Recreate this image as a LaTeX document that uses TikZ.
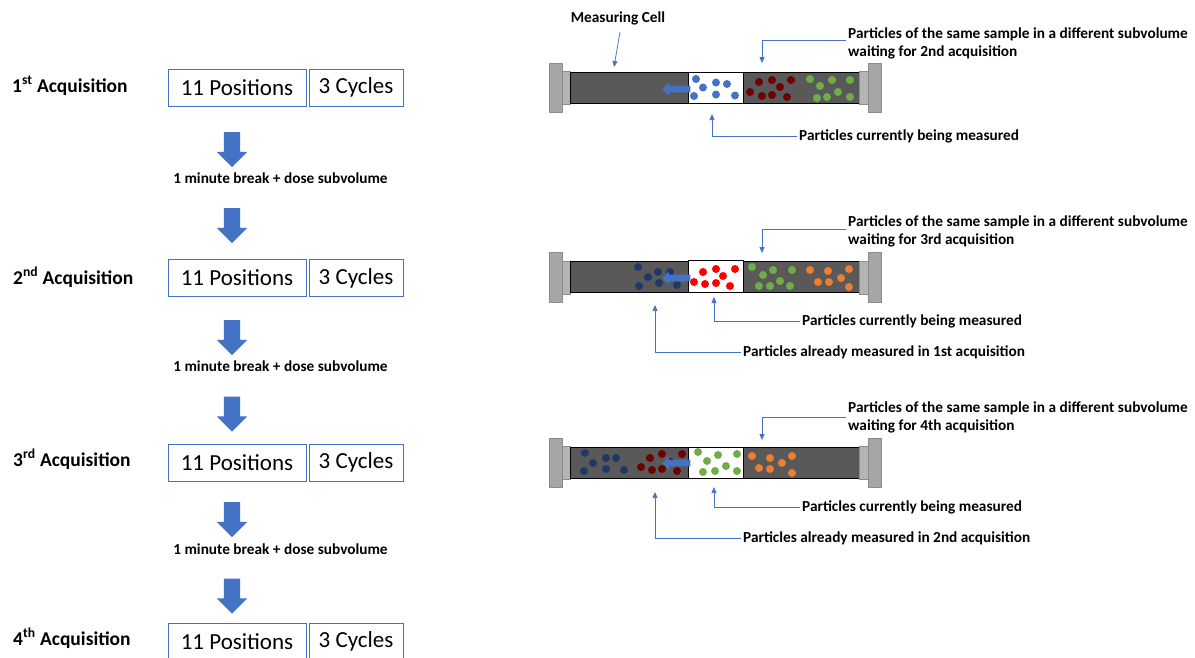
\documentclass[tikz,border=0pt]{standalone}
\usepackage{fontspec}
\setmainfont{Carlito}
\usetikzlibrary{shapes.arrows,arrows.meta}

\definecolor{flowblue}{HTML}{4472C4}
\definecolor{tubegray}{HTML}{595959}
\definecolor{capgray}{HTML}{A6A6A6}
\definecolor{capedge}{HTML}{8C8C8C}
\definecolor{capinner}{HTML}{B4B4B4}
\definecolor{navydot}{HTML}{1F3864}
\definecolor{maroondot}{HTML}{700000}
\definecolor{greendot}{HTML}{70AD47}
\definecolor{orangedot}{HTML}{ED7D31}
\definecolor{reddot}{HTML}{FF0000}

\tikzset{
  stepbox/.style={draw=flowblue, line width=0.8pt, fill=white, minimum height=37pt,
    inner sep=0pt, font=\fontsize{23}{27}\selectfont},
  acqlabel/.style={anchor=base west, inner sep=0pt, font=\bfseries\fontsize{19.5}{23}\selectfont},
  breaklabel/.style={anchor=base, inner sep=0pt, font=\bfseries\fontsize{15.3}{18.5}\selectfont},
  downarrow/.style={single arrow, shape border rotate=270, fill=flowblue, inner sep=8pt,
    minimum height=35pt, single arrow head extend=7pt},
  cellarrow/.style={single arrow, shape border rotate=180, fill=flowblue, inner sep=3.25pt,
    minimum height=28pt, single arrow head extend=3.25pt},
  notelabel/.style={anchor=west, inner sep=2pt, align=left, font=\bfseries\fontsize{15.3}{18.8}\selectfont},
  lead/.style={draw=flowblue, line width=0.75pt, -{Triangle[width=5pt,length=6pt]}},
  capout/.style={fill=capgray, draw=capedge, line width=0.8pt},
  capin/.style={fill=capinner, draw=capedge, line width=0.5pt},
  tube/.style={fill=tubegray, draw=black, line width=1pt},
  window/.style={fill=white, draw=black, line width=1pt},
}

\begin{document}
\begin{tikzpicture}[x=1pt, y=-1pt]
    \path[use as bounding box, fill=white] (0,0) rectangle (1195,657);

    % acquisition sequence
    \node[acqlabel] (acq1) at (12,92.3) {1\textsuperscript{st} Acquisition};
    \node[stepbox, minimum width=138pt] (pos1) at (237,87.5) {11 Positions};
    \node[stepbox, minimum width=94pt] (cyc1) at (356,87.5) {3 Cycles};
    \node[downarrow] (gap1) at (232,145.5) {};
    \node[breaklabel] (brk1) at (280.5,183) {1 minute break + dose subvolume};
    \node[downarrow] (gap2) at (232,221.5) {};

    \node[acqlabel] (acq2) at (13,284.3) {2\textsuperscript{nd} Acquisition};
    \node[stepbox, minimum width=138pt] (pos2) at (237,278) {11 Positions};
    \node[stepbox, minimum width=94pt] (cyc2) at (356,278) {3 Cycles};
    \node[downarrow] (gap3) at (232,333.5) {};
    \node[breaklabel] (brk2) at (280.5,371.5) {1 minute break + dose subvolume};
    \node[downarrow] (gap4) at (232,410) {};

    \node[acqlabel] (acq3) at (13,466) {3\textsuperscript{rd} Acquisition};
    \node[stepbox, minimum width=138pt] (pos3) at (237,462.5) {11 Positions};
    \node[stepbox, minimum width=94pt] (cyc3) at (356,462.5) {3 Cycles};
    \node[downarrow] (gap5) at (232,515.5) {};
    \node[breaklabel] (brk3) at (280.5,554) {1 minute break + dose subvolume};
    \node[downarrow] (gap6) at (232,592) {};

    \node[acqlabel] (acq4) at (13,645) {4\textsuperscript{th} Acquisition};
    \node[stepbox, minimum width=138pt] (pos4) at (237,641.5) {11 Positions};
    \node[stepbox, minimum width=94pt] (cyc4) at (356,641.5) {3 Cycles};

    % cell during 1st acquisition
    \begin{scope}[shift={(0,87.5)}]
        \draw[capout] (549,-24.5) rectangle (562,25);
        \draw[capin] (562,-16) rectangle (570,17);
        \draw[tube] (570,-15.5) rectangle (859,15.5);
        \draw[capin] (859,-16) rectangle (868,17);
        \draw[capout] (868,-24.5) rectangle (881,25);
        \draw[window] (688,-15.5) rectangle (743,15.5);
        \fill[flowblue] (696,-8.5) circle (4pt) (703,0) circle (4pt) (716,-5) circle (4pt) (727,-3.5) circle (4pt)
            (694,8.5) circle (4pt) (716,7) circle (4pt) (735,8) circle (4pt);
        \fill[maroondot] (759,-5.5) circle (4pt) (772,-7.5) circle (4pt) (791,-7.5) circle (4pt) (780,-0.5) circle (4pt)
            (750,4.5) circle (4pt) (762,8.5) circle (4pt) (772,7.5) circle (4pt) (787,9.5) circle (4pt);
        \fill[greendot] (810,-8.5) circle (4pt) (820,-1.5) circle (4pt) (832,-7.5) circle (4pt) (850,-7.5) circle (4pt)
            (838,4.5) circle (4pt) (817,10.5) circle (4pt) (827,9.5) circle (4pt) (850,9.5) circle (4pt);
        \node[cellarrow] (flow1) at (678,1.5) {};
    \end{scope}

    % cell during 2nd acquisition
    \begin{scope}[shift={(0,277)}]
        \draw[capout] (549,-24.5) rectangle (562,25);
        \draw[capin] (562,-16) rectangle (570,17);
        \draw[tube] (570,-15.5) rectangle (859,15.5);
        \draw[capin] (859,-16) rectangle (868,17);
        \draw[capout] (868,-24.5) rectangle (881,25);
        \draw[window] (688,-16.5) rectangle (743,15.5);
        \fill[navydot] (638,-10) circle (4pt) (648,0) circle (4pt) (658,-5) circle (4pt) (670,-5) circle (4pt)
            (639,9) circle (4pt) (659,6) circle (4pt) (677,8) circle (4pt);
        \fill[reddot] (703,-5) circle (4pt) (716,-8) circle (4pt) (735,-8) circle (4pt) (723,-1) circle (4pt)
            (694,5) circle (4pt) (705,7) circle (4pt) (716,6) circle (4pt) (730,9) circle (4pt);
        \fill[greendot] (752,-10) circle (4pt) (763,-2) circle (4pt) (773,-7) circle (4pt) (792,-7) circle (4pt)
            (780,4) circle (4pt) (759,9) circle (4pt) (770,9) circle (4pt) (790,9) circle (4pt);
        \fill[orangedot] (810,-7) circle (4pt) (828,-6) circle (4pt) (849,-8) circle (4pt) (818,5) circle (4pt)
            (829,5) circle (4pt) (841,1) circle (4pt) (849,10) circle (4pt);
        \node[cellarrow] (flow2) at (678,1) {};
    \end{scope}

    % cell during 3rd acquisition
    \begin{scope}[shift={(0,462.5)}]
        \draw[capout] (549,-24.5) rectangle (562,25);
        \draw[capin] (562,-16) rectangle (570,17);
        \draw[tube] (570,-15.5) rectangle (859,15.5);
        \draw[capin] (859,-16) rectangle (868,17);
        \draw[capout] (868,-24.5) rectangle (881,25);
        \draw[window] (688,-15.5) rectangle (743,15.5);
        \fill[navydot] (585,-9.5) circle (4pt) (593,0.5) circle (4pt) (606,-4.5) circle (4pt) (616,-4.5) circle (4pt)
            (584,8.5) circle (4pt) (606,6.5) circle (4pt) (624,7.5) circle (4pt);
        \fill[maroondot] (650,-4.5) circle (4pt) (662,-8.5) circle (4pt) (682,-8.5) circle (4pt) (670,-0.5) circle (4pt)
            (641,4.5) circle (4pt) (652,7.5) circle (4pt) (662,6.5) circle (4pt) (677,8.5) circle (4pt);
        \fill[greendot] (698,-10.5) circle (4pt) (707,-1.5) circle (4pt) (718,-7.5) circle (4pt) (737,-8.5) circle (4pt)
            (726,3.5) circle (4pt) (703,9.5) circle (4pt) (715,8.5) circle (4pt) (737,8.5) circle (4pt);
        \fill[orangedot] (752,-6.5) circle (4pt) (770,-4.5) circle (4pt) (792,-6.5) circle (4pt) (782,0.5) circle (4pt)
            (759,5.5) circle (4pt) (770,6.5) circle (4pt) (792,10.5) circle (4pt);
        \node[cellarrow] (flow3) at (678,0.5) {};
    \end{scope}

    % annotations
    \node[notelabel, anchor=center] (mcell) at (618,18) {Measuring Cell};
    \coordinate (mcelltip) at (614,67);
    \draw[lead] ([xshift=2pt,yshift=-5pt]mcell.south) -- (mcelltip);

    \node[notelabel] (wait1) at (846,43.5) {Particles of the same sample in a different subvolume\\waiting for 2nd acquisition};
    \node[notelabel] (cur1) at (797,136) {Particles currently being measured};
    \coordinate (wait1tip) at (762,63);
    \coordinate (cur1tip) at (712,114);
    \draw[lead] ([yshift=3pt]wait1.west) -| (wait1tip);
    \draw[lead] (cur1.west) -| (cur1tip);

    \node[notelabel] (wait2) at (846,231.5) {Particles of the same sample in a different subvolume\\waiting for 3rd acquisition};
    \node[notelabel] (cur2) at (800,321) {Particles currently being measured};
    \node[notelabel] (done2) at (741,352) {Particles already measured in 1st acquisition};
    \coordinate (wait2tip) at (762,253);
    \coordinate (cur2tip) at (714,297);
    \coordinate (done2tip) at (655,305);
    \draw[lead] ([yshift=2.5pt]wait2.west) -| (wait2tip);
    \draw[lead] (cur2.west) -| (cur2tip);
    \draw[lead] (done2.west) -| (done2tip);

    \node[notelabel] (wait3) at (846,417.5) {Particles of the same sample in a different subvolume\\waiting for 4th acquisition};
    \node[notelabel] (cur3) at (800,507) {Particles currently being measured};
    \node[notelabel] (done3) at (741,538) {Particles already measured in 2nd acquisition};
    \coordinate (wait3tip) at (762,440);
    \coordinate (cur3tip) at (714,487);
    \coordinate (done3tip) at (655,492);
    \draw[lead] (wait3.west) -| (wait3tip);
    \draw[lead] (cur3.west) -| (cur3tip);
    \draw[lead] (done3.west) -| (done3tip);
\end{tikzpicture}
\end{document}
